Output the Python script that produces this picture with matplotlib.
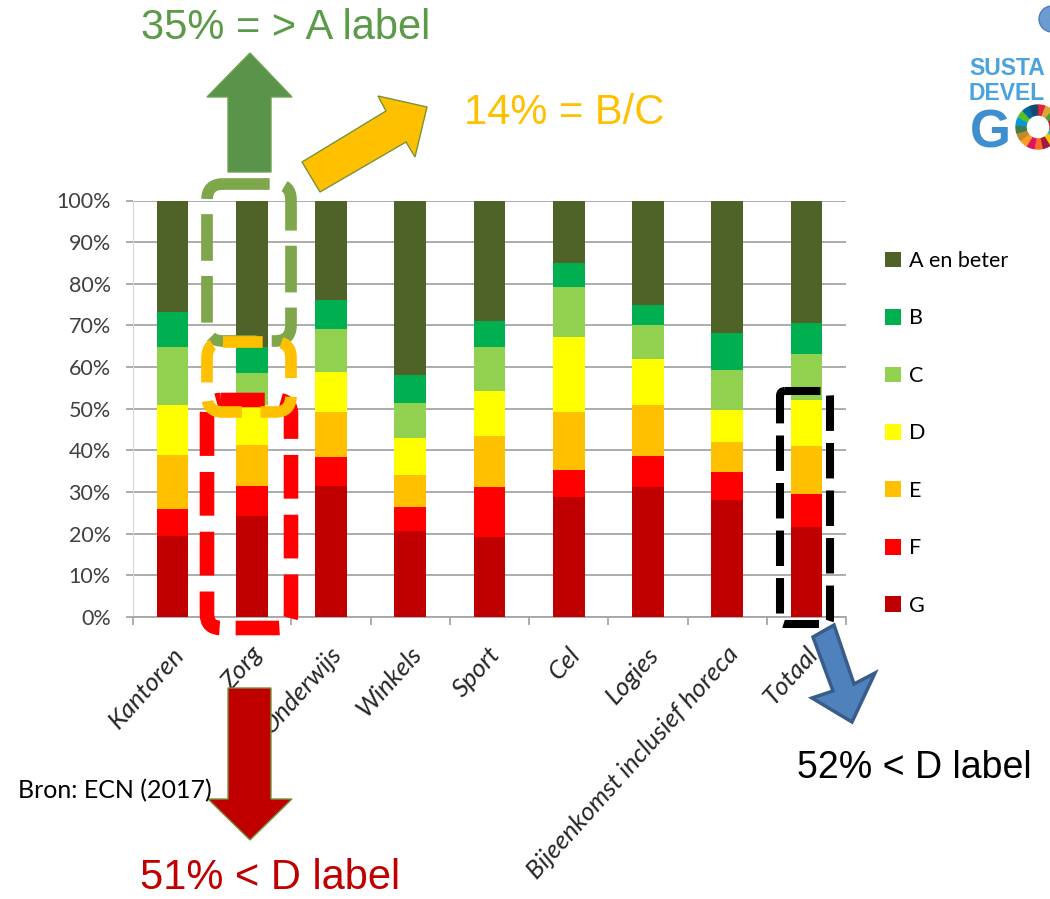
import numpy as np
import matplotlib
matplotlib.use('Agg')
import matplotlib.pyplot as plt
import matplotlib.transforms as mtransforms
from matplotlib.patches import FancyBboxPatch, Polygon, Wedge, Circle
from matplotlib.ticker import MultipleLocator, FixedLocator

# Energy label share per building type (percent)
categories = ['Kantoren', 'Zorg', 'Onderwijs', 'Winkels', 'Sport', 'Cel',
              'Logies', 'Bijeenkomst inclusief horeca', 'Totaal']
G = [19.4, 24.2, 31.4, 20.7, 19.1, 28.7, 31.1, 28.0, 21.5]
F = [6.6, 7.2, 6.9, 5.7, 12.0, 6.5, 7.5, 6.7, 8.0]
E = [13.0, 9.9, 11.0, 7.6, 12.4, 14.1, 12.2, 7.4, 11.6]
D = [11.8, 9.5, 9.6, 8.9, 10.8, 18.0, 11.1, 7.7, 11.0]
C = [14.1, 7.7, 10.3, 8.4, 10.6, 11.9, 8.1, 9.5, 11.0]
B = [8.4, 6.4, 6.9, 6.8, 6.2, 5.7, 4.9, 8.8, 7.6]
A = [26.7, 35.1, 23.9, 41.9, 28.9, 15.1, 25.1, 31.9, 29.3]

series_names = ['G', 'F', 'E', 'D', 'C', 'B', 'A en beter']
series_values = [G, F, E, D, C, B, A]
series_colors = ['#C00000', '#FF0000', '#FFC000', '#FFFF00', '#92D050', '#00B050', '#4F6228']

W, H = 1050, 899
fig = plt.figure(figsize=(W / 100, H / 100), dpi=100)

# main chart
ax = fig.add_axes([133 / W, 1 - 617 / H, 713 / W, 416.5 / H])
x = np.arange(len(categories))
bottom = np.zeros(len(categories))
handles = []
for name, vals, col in zip(series_names, series_values, series_colors):
    b = ax.bar(x, vals, 0.4, bottom=bottom, color=col, label=name, zorder=3)
    handles.append(b)
    bottom += np.array(vals)

ax.set_xlim(-0.5, len(categories) - 0.5)
ax.set_ylim(0, 100)
ax.yaxis.set_major_locator(MultipleLocator(10))
ax.yaxis.set_major_formatter(lambda v, p: f'{v:.0f}%')
ax.grid(axis='y', color='#a6a6a6', lw=1.3, zorder=0)
for s in ['top', 'right']:
    ax.spines[s].set_visible(False)
ax.spines['left'].set_color('#d9d9d9')
ax.spines['bottom'].set_color('#a6a6a6')
ax.spines['bottom'].set_linewidth(1.3)
ax.tick_params(axis='y', length=5, width=1.3, color='#a6a6a6', pad=11,
               labelsize=15.5, labelcolor='#404040')
ax.set_xticks(x)
ax.set_xticklabels(categories, rotation=48, ha='right', va='center',
                   rotation_mode='anchor', fontsize=18.5, color='#262626')
ax.tick_params(axis='x', length=0, pad=24)
ax.xaxis.set_minor_locator(FixedLocator(np.arange(len(categories) + 1) - 0.5))
ax.tick_params(axis='x', which='minor', length=6, width=1.3, color='#a6a6a6')
shift = mtransforms.ScaledTranslation(7 / 100, 0, fig.dpi_scale_trans)
for lab in ax.get_xticklabels():
    lab.set_transform(lab.get_transform() + shift)
    lab.set_fontstyle('italic')
for lab in ax.get_xticklabels() + ax.get_yticklabels():
    lab.set_fontfamily('Lato')

leg = ax.legend(handles[::-1], series_names[::-1], loc='upper left',
                bbox_to_anchor=(885 / W, 1 - 251 / H), bbox_transform=fig.transFigure,
                frameon=False, handlelength=0.75, handleheight=0.75,
                handletextpad=0.35, labelspacing=1.74, borderpad=0, borderaxespad=0,
                prop={'family': 'Lato', 'size': 15.5})

# overlay in pixel coordinates for the slide annotations
ov = fig.add_axes([0, 0, 1, 1], zorder=10)
ov.set_xlim(0, W)
ov.set_ylim(H, 0)
ov.axis('off')
ov.patch.set_alpha(0)

def dashed_box(x0, y0, x1, y1, col, lw, dash, r):
    p = FancyBboxPatch((x0, y0), x1 - x0, y1 - y0,
                       boxstyle=f'round,pad=0,rounding_size={r}',
                       fill=False, ec=col, lw=lw, ls=(0, dash), capstyle='butt')
    ov.add_patch(p)

dashed_box(207, 184, 291, 341, '#7EA64A', 8.4, (4.0, 1.3), 16)
dashed_box(207, 400, 291, 628, '#FF0000', 10.5, (3.0, 1.1), 14)
dashed_box(207, 342, 291, 412, '#FFC000', 8.4, (3.4, 1.6), 16)
dashed_box(780, 391, 830, 624, '#000000', 5.8, (4.4, 1.5), 5)

# arrows
green_arrow = [(228, 172), (228, 97), (207, 97), (250, 53), (292, 97), (271, 97), (271, 172)]
ov.add_patch(Polygon(green_arrow, closed=True, fc='#5A934A', ec='#6FA050', lw=1))
orange_arrow = [(302, 162), (386, 111), (378, 96), (427, 107), (415, 157), (406, 142), (320, 192)]
ov.add_patch(Polygon(orange_arrow, closed=True, fc='#FFC000', ec='#77933C', lw=1))
red_arrow = [(228, 688), (271, 688), (271, 799), (292, 799), (250, 840), (208, 799), (228, 799)]
ov.add_patch(Polygon(red_arrow, closed=True, fc='#C00000', ec='#77933C', lw=1))
blue_arrow = [(813, 637), (834, 625), (854, 684), (875, 673), (852, 722), (812, 698), (833, 691)]
ov.add_patch(Polygon(blue_arrow, closed=True, fc='#4F81BD', ec='#385D8A', lw=2.5))

# texts
ov.text(141, 39, '35% = > A label', color='#5A9A48', fontsize=30,
        family='Liberation Sans', va='baseline')
ov.text(464, 124, '14% = B/C', color='#FFC000', fontsize=30,
        family='Liberation Sans', va='baseline')
ov.text(797, 778, '52% < D label', color='#000000', fontsize=27,
        family='Liberation Sans', va='baseline')
ov.text(140, 889, '51% < D label', color='#C00000', fontsize=30,
        family='Liberation Sans', va='baseline')
ov.text(18, 798, 'Bron: ECN (2017)', color='#000000', fontsize=18,
        family='Lato', va='baseline')

# SDG logo, cut off by the right edge like on the slide
ov.text(969, 75, 'SUSTA', color='#4AA3DF', fontsize=16.5, fontweight='bold',
        family='Liberation Sans', va='baseline')
ov.text(969, 100, 'DEVEL', color='#4AA3DF', fontsize=16.5, fontweight='bold',
        family='Liberation Sans', va='baseline')
ov.text(970, 147, 'G', color='#3F8FD0', fontsize=38, fontweight='bold',
        family='Liberation Sans', va='baseline')
sdg_colors = ['#E5243B', '#DDA63A', '#4C9F38', '#C5192D', '#FF3A21', '#26BDE2',
              '#FCC30B', '#A21942', '#FD6925', '#DD1367', '#FD9D24', '#BF8B2E',
              '#3F7E44', '#0A97D9', '#56C02B', '#00689D', '#19486A']
step = 360 / len(sdg_colors)
for i, col in enumerate(sdg_colors):
    a0 = -90 + i * step
    ov.add_patch(Wedge((1038, 127), 22, a0, a0 + step - 1.5, width=10, color=col))
ov.add_patch(Circle((1052, 19), 13, fc='#6C9BD2', ec='#4A7FC0', lw=1))

fig.savefig('out.png', dpi=100)
